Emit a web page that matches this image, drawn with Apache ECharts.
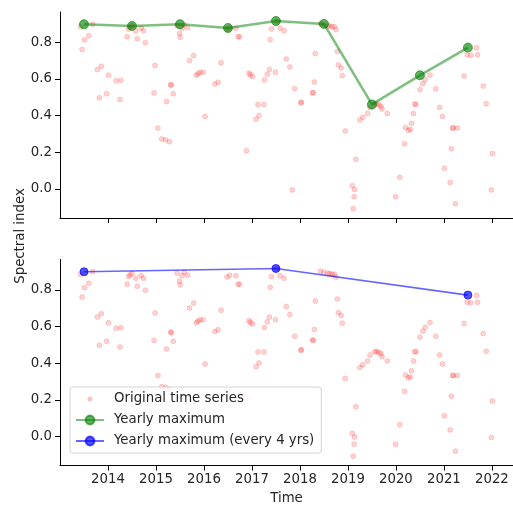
<!DOCTYPE html>
<html><head><meta charset="utf-8">
<script src="https://cdn.jsdelivr.net/npm/echarts@6/dist/echarts.min.js"></script>
<style>html,body{margin:0;padding:0;background:#fff}#c{width:513px;height:507px}</style>
</head><body><div id="c"></div>
<script>
// Original time series (decimal year, spectral index)
const obsTime = [
  2013.43, 2013.46, 2013.51, 2013.60, 2013.68, 2013.78, 2013.82, 2013.86, 2013.97,
  2014.01, 2014.17, 2014.25, 2014.27, 2014.40, 2014.43, 2014.46, 2014.50, 2014.58, 2014.61, 2014.69, 2014.74, 2014.78, 2014.96, 2014.98,
  2015.04, 2015.12, 2015.20, 2015.22, 2015.28, 2015.305, 2015.32, 2015.36, 2015.44, 2015.49, 2015.505, 2015.545, 2015.59, 2015.66, 2015.70, 2015.785, 2015.84, 2015.875, 2015.92, 2015.985,
  2016.025, 2016.225, 2016.295, 2016.355, 2016.48, 2016.535, 2016.665, 2016.71, 2016.745, 2016.885, 2016.94, 2016.965,
  2017.01, 2017.085, 2017.125, 2017.145, 2017.25, 2017.26, 2017.32, 2017.365, 2017.38, 2017.405, 2017.49, 2017.52, 2017.585, 2017.67, 2017.715, 2017.79, 2017.84, 2017.89,
  2018.02, 2018.03, 2018.26, 2018.28, 2018.30, 2018.32, 2018.43, 2018.50, 2018.58, 2018.62, 2018.67, 2018.72, 2018.75, 2018.78, 2018.80, 2018.86, 2018.88, 2018.945,
  2019.09, 2019.11, 2019.13, 2019.14, 2019.165, 2019.25, 2019.31, 2019.41, 2019.46, 2019.56, 2019.597, 2019.645, 2019.686, 2019.71, 2019.82, 2019.995,
  2020.08, 2020.18, 2020.20, 2020.26, 2020.30, 2020.325, 2020.365, 2020.39, 2020.42, 2020.50, 2020.56, 2020.61, 2020.71, 2020.83, 2020.91, 2020.97,
  2021.01, 2021.13, 2021.155, 2021.18, 2021.20, 2021.24, 2021.28, 2021.42, 2021.485, 2021.56, 2021.68, 2021.70, 2021.82, 2021.88, 2021.99, 2022.01
];
const obsValue = [
  0.885, 0.760, 0.813, 0.835, 0.898, 0.651, 0.497, 0.669, 0.519,
  0.620, 0.590, 0.488, 0.593, 0.830, 0.872, 0.881, 0.890, 0.863, 0.819, 0.877, 0.863, 0.798, 0.524, 0.673,
  0.332, 0.272, 0.268, 0.477, 0.258, 0.570, 0.566, 0.519, 0.890, 0.848, 0.827, 0.877, 0.896, 0.879, 0.701, 0.728, 0.620, 0.629, 0.637, 0.637,
  0.395, 0.572, 0.582, 0.689, 0.870, 0.879, 0.876, 0.830, 0.830, 0.209, 0.632, 0.623,
  0.614, 0.381, 0.461, 0.401, 0.461, 0.594, 0.625, 0.652, 0.814, 0.872, 0.637, 0.915, 0.876, 0.863, 0.709, 0.665, -0.005, 0.547,
  0.469, 0.474, 0.525, 0.525, 0.583, 0.739, 0.901, 0.896, 0.890, 0.888, 0.885, 0.885, 0.868, 0.750, 0.676, 0.660, 0.618, 0.316,
  0.018, -0.107, -0.042, -0.003, 0.162, 0.376, 0.391, 0.412, 0.445, 0.462, 0.463, 0.460, 0.451, 0.436, 0.412, -0.042,
  0.064, 0.247, 0.336, 0.320, 0.325, 0.358, 0.412, 0.462, 0.462, 0.541, 0.574, 0.596, 0.621, 0.547, 0.445, 0.396,
  0.113, 0.036, 0.220, 0.333, 0.333, -0.080, 0.333, 0.616, 0.732, 0.729, 0.770, 0.732, 0.561, 0.465, -0.005, 0.193
];
// Yearly maximum (plotted at mid-year)
const maxTime  = [2013.5, 2014.5, 2015.5, 2016.5, 2017.5, 2018.5, 2019.5, 2020.5, 2021.5];
const maxValue = [0.898, 0.889, 0.898, 0.878, 0.916, 0.900, 0.461, 0.620, 0.771];
// Yearly maximum every 4 years
const max4Time  = [2013.5, 2017.5, 2021.5];
const max4Value = [0.898, 0.916, 0.771];
// Tick labels
const xTicks = [2014, 2015, 2016, 2017, 2018, 2019, 2020, 2021, 2022];
const yTicks = [0.0, 0.2, 0.4, 0.6, 0.8];

const FONT = 'DejaVu Sans';
const TXT = '#262626';
const pairs = (xs, ys) => xs.map((x, i) => [x, ys[i]]);

function xAxisCfg(gridIndex, showLabels) {
  return {
    type: 'value', gridIndex, min: 2013.0, max: 2022.44,
    axisLine: { show: true, onZero: false, lineStyle: { color: '#000', width: 1 } },
    axisTick: { show: true, length: 5, customValues: xTicks, lineStyle: { color: '#000', width: 1 } },
    axisLabel: { show: showLabels, customValues: xTicks, margin: 8, color: TXT, fontFamily: FONT, fontSize: 13.3,
                 formatter: v => String(Math.round(v)) },
    splitLine: { show: false },
    name: showLabels ? 'Time' : '', nameLocation: 'middle', nameGap: 27,
    nameTextStyle: { color: TXT, fontFamily: FONT, fontSize: 13.3 }
  };
}
function yAxisCfg(gridIndex) {
  return {
    type: 'value', gridIndex, min: -0.158, max: 0.965,
    axisLine: { show: true, onZero: false, lineStyle: { color: '#000', width: 1 } },
    axisTick: { show: true, length: 5, customValues: yTicks, lineStyle: { color: '#000', width: 1 } },
    axisLabel: { show: true, customValues: yTicks, margin: 8, color: TXT, fontFamily: FONT, fontSize: 13.3,
                 formatter: v => v.toFixed(1) },
    splitLine: { show: false }
  };
}

const scatterStyle = { color: 'rgba(255,0,0,0.22)', borderColor: 'rgba(255,0,0,0.22)', borderWidth: 0.8 };

const option = {
  animation: false,
  backgroundColor: '#fff',
  grid: [
    { left: 60, top: 12, width: 458, height: 206 },
    { left: 60, top: 259.5, width: 458, height: 206 }
  ],
  xAxis: [xAxisCfg(0, false), xAxisCfg(1, true)],
  yAxis: [yAxisCfg(0), yAxisCfg(1)],
  legend: {
    orient: 'vertical', left: 70, top: 387,
    padding: [5, 7, 5, 5],
    itemWidth: 28, itemHeight: 11, itemGap: 7,
    backgroundColor: 'rgba(255,255,255,0.8)', borderColor: '#d4d4d4', borderWidth: 1, borderRadius: 3,
    textStyle: { color: TXT, fontFamily: FONT, fontSize: 13.3, lineHeight: 14, padding: [0, 0, 0, 5] },
    data: [
      { name: 'Original time series',
        icon: 'path://M0 0ZM28 11ZM11.5 5.5a2.5 2.5 0 1 0 5 0a2.5 2.5 0 1 0 -5 0Z',
        itemStyle: { color: 'rgba(255,0,0,0.3)', borderWidth: 0 } },
      { name: 'Yearly maximum' },
      { name: 'Yearly maximum (every 4 yrs)' }
    ]
  },
  graphic: [{
    type: 'text', x: 21, y: 236, rotation: Math.PI / 2,
    style: { text: 'Spectral index', fill: TXT, font: '13.3px "DejaVu Sans"', align: 'center', verticalAlign: 'middle' }
  }],
  series: [
    { name: 'Original time series', type: 'scatter', xAxisIndex: 0, yAxisIndex: 0,
      symbol: 'circle', symbolSize: 5, itemStyle: scatterStyle, data: pairs(obsTime, obsValue), z: 2 },
    { name: 'Original time series', type: 'scatter', xAxisIndex: 1, yAxisIndex: 1,
      symbol: 'circle', symbolSize: 5, itemStyle: scatterStyle, data: pairs(obsTime, obsValue), z: 2 },
    { name: 'Yearly maximum', type: 'line', xAxisIndex: 0, yAxisIndex: 0,
      symbol: 'circle', symbolSize: 9, showSymbol: true,
      lineStyle: { color: 'rgba(0,128,0,0.5)', width: 2.6 },
      itemStyle: { color: 'rgba(0,128,0,0.62)', borderColor: 'rgba(0,128,0,0.62)', borderWidth: 1 },
      data: pairs(maxTime, maxValue), z: 3 },
    { name: 'Yearly maximum (every 4 yrs)', type: 'line', xAxisIndex: 1, yAxisIndex: 1,
      symbol: 'circle', symbolSize: 8, showSymbol: true,
      lineStyle: { color: 'rgba(0,0,255,0.6)', width: 1.6 },
      itemStyle: { color: 'rgba(0,0,255,0.68)', borderColor: 'rgba(0,0,255,0.68)', borderWidth: 1 },
      data: pairs(max4Time, max4Value), z: 3 }
  ]
};
const chart = echarts.init(document.getElementById('c'), null, { renderer: 'canvas' });
chart.setOption(option);
</script></body></html>
